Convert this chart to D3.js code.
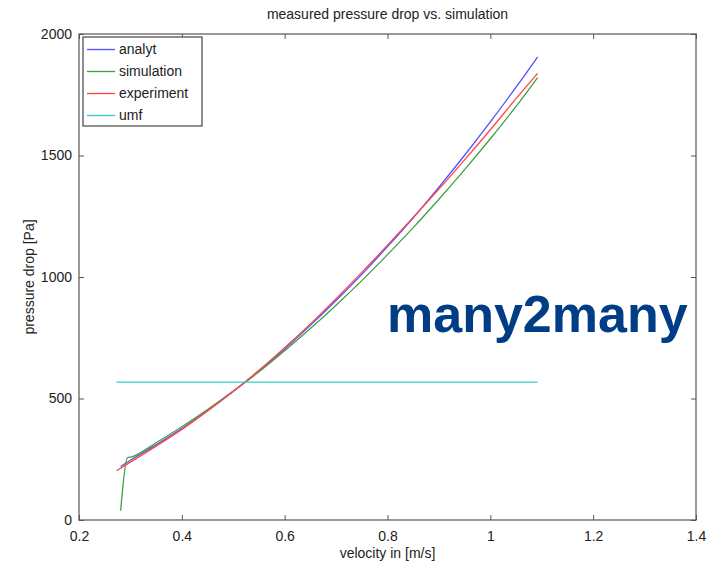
<!DOCTYPE html>
<html>
<head>
<meta charset="utf-8">
<script src="https://cdn.jsdelivr.net/npm/d3@7"></script>
<style>
  body { margin: 0; background: #fff; }
  text { font-family: "Liberation Sans", Arial, sans-serif; fill: #222; }
</style>
</head>
<body>
<div id="chart"></div>
<script>
var xTicks = [0.2, 0.4, 0.6, 0.8, 1, 1.2, 1.4];
var yTicks = [0, 500, 1000, 1500, 2000];

var analytV = [0.281, 0.30, 0.35, 0.40, 0.45, 0.50, 0.55, 0.60, 0.65, 0.70, 0.75, 0.80, 0.85, 0.90, 0.95, 1.00, 1.05, 1.092];
var analytP = [220, 246, 309, 376, 450, 529, 613, 704, 801, 903, 1011, 1125, 1244, 1370, 1501, 1638, 1781, 1906];

var simV = [0.281, 0.294, 0.3025, 0.35, 0.40, 0.45, 0.50, 0.55, 0.60, 0.65, 0.70, 0.75, 0.80, 0.85, 0.90, 0.95, 1.00, 1.05, 1.092];
var simP = [38, 256, 260, 318, 384, 455, 531, 610, 697, 788, 884, 985, 1092, 1203, 1320, 1442, 1569, 1702, 1821];

var expV = [0.273, 0.30, 0.35, 0.40, 0.45, 0.50, 0.55, 0.60, 0.65, 0.70, 0.75, 0.80, 0.85, 0.90, 0.95, 1.00, 1.05, 1.092];
var expP = [203, 238, 304, 373, 449, 530, 616, 709, 807, 911, 1019, 1131, 1245, 1362, 1482, 1606, 1734, 1838];

var umfV = [0.273, 1.092];
var umfP = [567, 567];

var seriesNames = ['analyt', 'simulation', 'experiment', 'umf'];
var seriesColors = ['#5050ff', '#40a040', '#ff4545', '#30cccc'];

var width = 708, height = 565,
    plotLeft = 79, plotRight = 696, plotTop = 34, plotBottom = 520;

var x = d3.scaleLinear().domain([0.2, 1.4]).range([plotLeft, plotRight]),
    y = d3.scaleLinear().domain([0, 2000]).range([plotBottom, plotTop]);

var svg = d3.select('#chart').append('svg')
    .attr('width', width)
    .attr('height', height);

function zip(vs, ps) {
    return vs.map(function (v, i) { return [v, ps[i]]; });
}

var series = [zip(analytV, analytP), zip(simV, simP), zip(expV, expP), zip(umfV, umfP)];

var line = d3.line()
    .x(function (d) { return x(d[0]); })
    .y(function (d) { return y(d[1]); })
    .curve(d3.curveMonotoneX);

// axes, ticks point inward
var gx = svg.append('g').attr('transform', 'translate(0,' + plotBottom + ')')
    .call(d3.axisBottom(x).tickValues(xTicks).tickSizeInner(-5).tickSizeOuter(0).tickPadding(11)
        .tickFormat(d3.format('~g')));
var gy = svg.append('g').attr('transform', 'translate(' + plotLeft + ',0)')
    .call(d3.axisLeft(y).tickValues(yTicks).tickSizeInner(-5).tickSizeOuter(0).tickPadding(7)
        .tickFormat(d3.format('d')));
var gt = svg.append('g').attr('transform', 'translate(0,' + plotTop + ')')
    .call(d3.axisTop(x).tickValues(xTicks).tickSizeInner(-5).tickSizeOuter(0).tickFormat(''));
var gr = svg.append('g').attr('transform', 'translate(' + plotRight + ',0)')
    .call(d3.axisRight(y).tickValues(yTicks).tickSizeInner(-5).tickSizeOuter(0).tickFormat(''));

[gx, gy, gt, gr].forEach(function (g) {
    g.select('.domain').remove();
    g.selectAll('.tick line').attr('stroke', '#555');
    g.selectAll('.tick text').attr('font-size', 14).attr('fill', '#222')
        .style('font-family', '"Liberation Sans", Arial, sans-serif');
});

svg.append('rect')
    .attr('x', plotLeft).attr('y', plotTop)
    .attr('width', plotRight - plotLeft).attr('height', plotBottom - plotTop)
    .attr('fill', 'none').attr('stroke', '#555').attr('stroke-width', 1.2);

svg.selectAll('path.series')
    .data(series)
    .enter().append('path')
    .attr('class', 'series')
    .attr('d', line)
    .attr('fill', 'none')
    .attr('stroke', function (d, i) { return seriesColors[i]; })
    .attr('stroke-width', 1.3);

// title and labels
svg.append('text')
    .attr('x', (plotLeft + plotRight) / 2).attr('y', 19)
    .attr('text-anchor', 'middle').attr('font-size', 14)
    .text('measured pressure drop vs. simulation');

svg.append('text')
    .attr('x', (plotLeft + plotRight) / 2).attr('y', 558)
    .attr('text-anchor', 'middle').attr('font-size', 14)
    .text('velocity in [m/s]');

svg.append('text')
    .attr('transform', 'translate(34,' + y(1000) + ') rotate(-90)')
    .attr('text-anchor', 'middle').attr('font-size', 14)
    .text('pressure drop [Pa]');

// legend
var legend = svg.append('g');
legend.append('rect')
    .attr('x', 83).attr('y', 37).attr('width', 119).attr('height', 89)
    .attr('fill', '#fff').attr('stroke', '#444').attr('stroke-width', 1.2);

var items = legend.selectAll('g.item')
    .data(seriesNames)
    .enter().append('g')
    .attr('class', 'item')
    .attr('transform', function (d, i) { return 'translate(0,' + (49.5 + i * 22) + ')'; });

items.append('line')
    .attr('x1', 87).attr('x2', 115)
    .attr('stroke', function (d, i) { return seriesColors[i]; })
    .attr('stroke-width', 1.3);

items.append('text')
    .attr('x', 119).attr('dy', '0.35em')
    .attr('font-size', 14)
    .text(function (d) { return d; });

// watermark
svg.append('text')
    .attr('x', 387).attr('y', 332)
    .attr('font-size', 52).attr('font-weight', 'bold')
    .style('fill', '#003d84')
    .text('many2many');
</script>
</body>
</html>
